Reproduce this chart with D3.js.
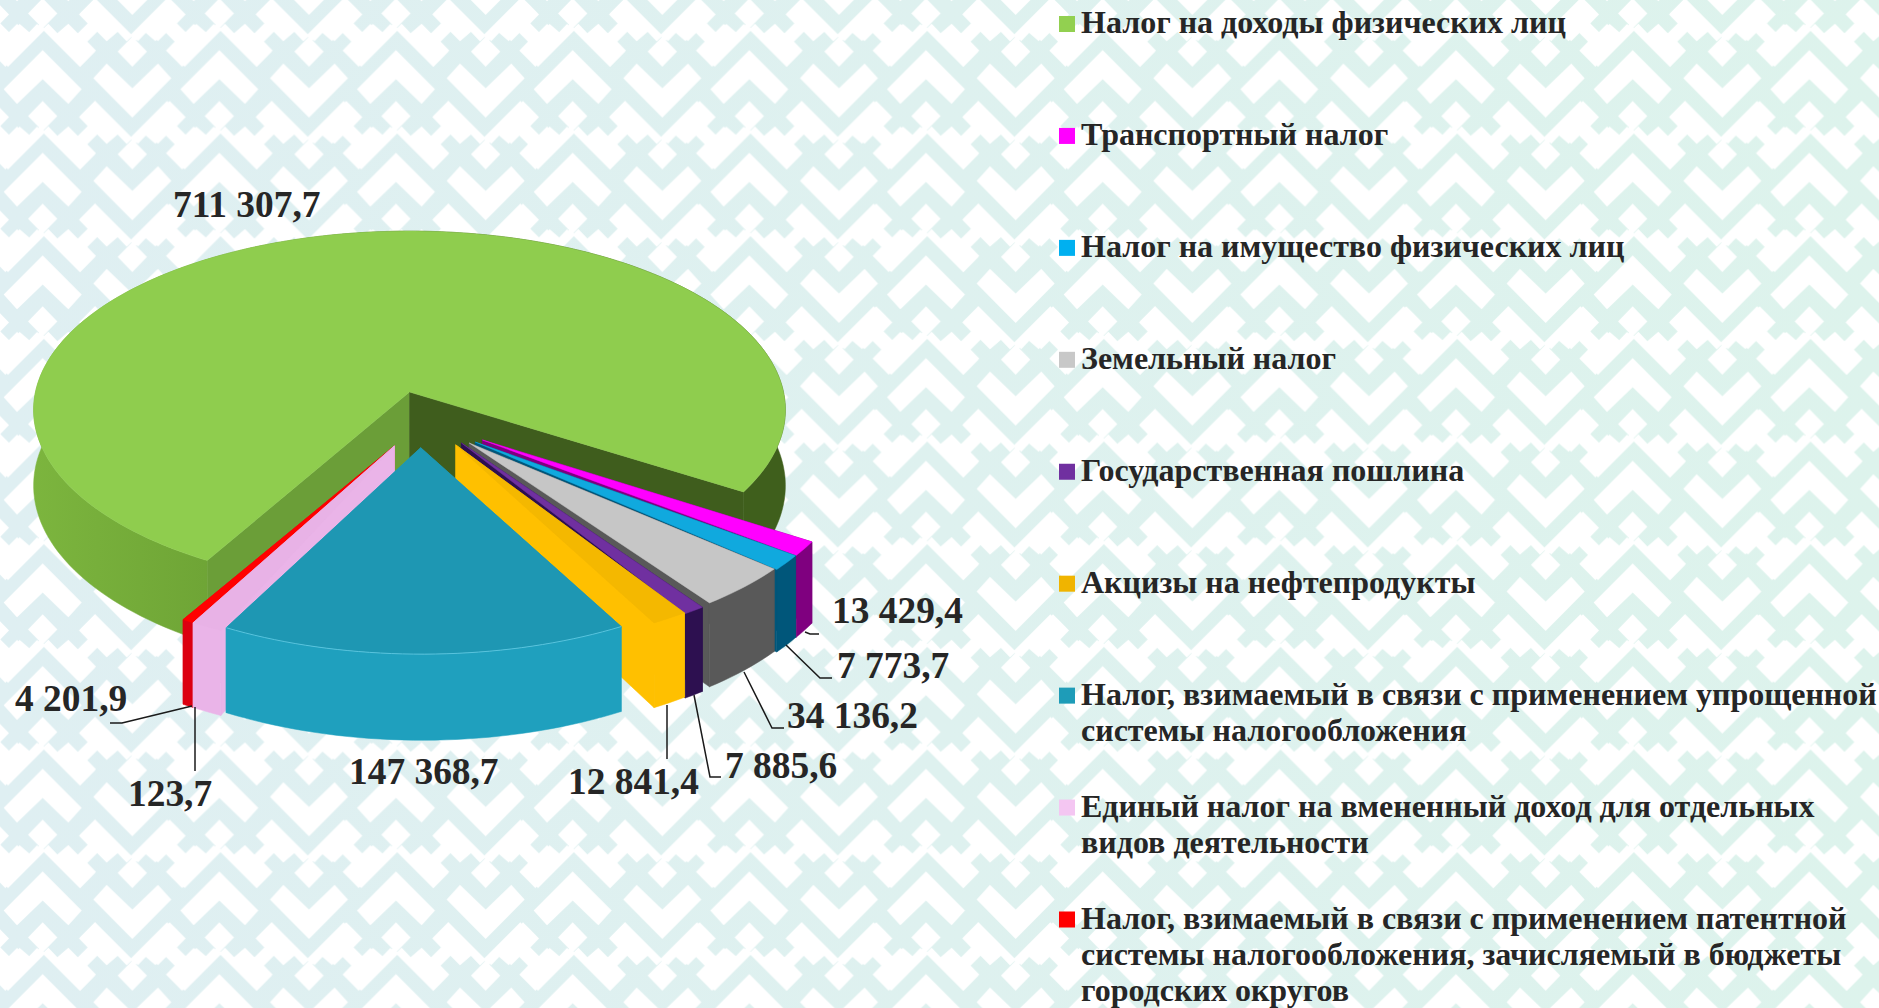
<!DOCTYPE html>
<html lang="ru">
<head>
    <meta charset="UTF-8">
    <script src="https://d3js.org/d3.v7.min.js"></script>
    <style>
        html, body { margin: 0; padding: 0; background: #fff; overflow: hidden; }
        svg { display: block; }
        text { font-family: "Liberation Serif", serif; font-weight: bold; fill: #262626; }
        .legend text { font-size: 32px; }
        .leader { fill: none; stroke: #1a1a1a; stroke-width: 1.5px; }
    </style>
</head>
<body>
    <div id="chart"></div>

    <script>
        const categories = [
            ["Налог на доходы физических лиц"],
            ["Транспортный налог"],
            ["Налог на имущество физических лиц"],
            ["Земельный налог"],
            ["Государственная пошлина"],
            ["Акцизы на нефтепродукты"],
            ["Налог, взимаемый в связи с применением упрощенной", "системы налогообложения"],
            ["Единый налог на вмененный доход для отдельных", "видов деятельности"],
            ["Налог, взимаемый в связи с применением патентной", "системы налогообложения, зачисляемый в бюджеты", "городских округов"]
        ];
        const values = [711307.7, 13429.4, 7773.7, 34136.2, 7885.6, 12841.4, 147368.7, 4201.9, 123.7];

        const width = 1879, height = 1008;
        const rad = d => d * Math.PI / 180;

        // slice look: top, outer wall, wall at start angle, wall at end angle
        const looks = [
            { top: "#8fcd4e", outer: "url(#greenWall)", w0: "#6b9e38", w1: "#3f5d1d" },
            { top: "#ff00ff", outer: "#7f007f", w0: "#7f007f", w1: "#7f007f" },
            { top: "#10a9de", outer: "#00567a", w0: "#00567a", w1: "#00567a" },
            { top: "#c6c6c6", outer: "#595959", w0: "#595959", w1: "#595959" },
            { top: "#7030a0", outer: "#2d1050", w0: "#2d1050", w1: "#2d1050" },
            { top: "#f4b800", outer: "#ffc000", w0: "#f2b700", w1: "#ffc000" },
            { top: "#1e97b3", outer: "#1fa0be", w0: "#1fa0be", w1: "#1fa0be" },
            { top: "#e8b2e6", outer: "#eab4e8", w0: "#eab4e8", w1: "#eab4e8" },
            { top: "#ff0000", outer: "#dc0010", w0: "#dc0010", w1: "#dc0010" }
        ];
        const legendColors = ["#92d050", "#ff00ff", "#00b0f0", "#c8c8c8", "#7030a0", "#f0b400", "#1e9cb8", "#f4c6f2", "#ff0000"];

        // explosion of each slice on the pie plane, radius and angle tweaks (deg)
        const explode = [
            { ou: 0, ov: 0, r: 1, a0: 0, a1: 0 },
            { ou: .19, ov: .264, r: .954, a0: .5, a1: .1 },
            { ou: .171, ov: .275, r: .962, a0: -1, a1: 1 },
            { ou: .155, ov: .28, r: .965, a0: .3, a1: .9 },
            { ou: .135, ov: .28, r: .982, a0: 1.5, a1: 1.5 },
            { ou: .12, ov: .29, r: .978, a0: .4, a1: .6 },
            { ou: .029, ov: .305, r: .985, a0: 0, a1: 0 },
            { ou: -.039, ov: .295, r: .98, a0: -3.5, a1: -.7 },
            { ou: -.039, ov: .295, r: .98, a0: -.7, a1: .9 }
        ];
        const drawOrder = [0, 1, 2, 3, 4, 5, 8, 7, 6];

        // label anchors and leader lines
        const labelPos = [
            { x: 173, y: 217 }, { x: 832, y: 623 }, { x: 837, y: 678 },
            { x: 787, y: 728 }, { x: 725, y: 778 }, { x: 568, y: 794 },
            { x: 349, y: 784 }, { x: 15, y: 711 }, { x: 128, y: 806 }
        ];
        const leaders = [
            [[805, 632], [810, 634], [819, 634]],
            [[786, 645], [820, 678], [832, 678]],
            [[744, 672], [772, 728], [784, 728]],
            [[694, 695], [710, 777], [721, 777]],
            [[667, 705], [667, 759]],
            [[192, 706], [122, 723], [110, 723]],
            [[195, 707], [195, 771]]
        ];

        const svg = d3.select("#chart").append("svg")
            .attr("width", width)
            .attr("height", height);

        // background ornament, tile 530x308 measured at 3x, scaled down
        const defs = svg.append("defs");
        const bgGrad = defs.append("linearGradient").attr("id", "bgGrad");
        bgGrad.append("stop").attr("offset", "0%").attr("stop-color", "#dfeff2");
        bgGrad.append("stop").attr("offset", "100%").attr("stop-color", "#ddf3ec");

        const greenWall = defs.append("linearGradient").attr("id", "greenWall")
            .attr("gradientUnits", "userSpaceOnUse")
            .attr("x1", 32).attr("x2", 785).attr("y1", 0).attr("y2", 0);
        greenWall.append("stop").attr("offset", "0%").attr("stop-color", "#7cb53e");
        greenWall.append("stop").attr("offset", "23%").attr("stop-color", "#6fa536");
        greenWall.append("stop").attr("offset", "60%").attr("stop-color", "#3f5f1c");
        greenWall.append("stop").attr("offset", "100%").attr("stop-color", "#3f5f1c");

        const tileW = 530, tileH = 308;
        const chevron = [[128, 150], [245, 268], [205, 312], [128, 238], [51, 312], [11, 268]];
        const diamond = [[128, -5], [172, 40], [128, 85], [84, 40]];
        const knot = [[128, 88], [145, 72], [172, 100], [205, 72], [240, 107], [273, 73], [240, 40], [285, -5],
            [397, 107], [380, 123], [353, 95], [320, 123], [292, 95], [262, 125], [288, 152], [240, 200]];
        const knotM = knot.map(p => [256 - p[0], p[1]]);
        let shapes = [chevron, diamond, knot, knotM];
        shapes = shapes.concat(shapes.map(s => s.map(p => [525 - p[0], 195 - p[1]])));

        const pattern = defs.append("pattern").attr("id", "ornament")
            .attr("patternUnits", "userSpaceOnUse")
            .attr("width", tileW / 3).attr("height", tileH / 3);
        const tile = pattern.append("g").attr("transform", "scale(0.33333)");
        [-1, 0, 1].forEach(i => [-1, 0, 1].forEach(j => {
            tile.selectAll(null).data(shapes).enter().append("polygon")
                .attr("points", s => s.map(p => [p[0] + i * tileW, p[1] + j * tileH].join(",")).join(" "))
                .attr("fill", "#fff");
        }));

        svg.append("rect").attr("width", width).attr("height", height).attr("fill", "url(#bgGrad)");
        svg.append("rect").attr("width", width).attr("height", height).attr("fill", "url(#ornament)");

        // perspective projection of the pie plane
        const cx = 409.5, cy = 392, depth = 75, persp = 0.1;
        const planeX = d3.scaleLinear().domain([-1, 1]).range([-374, 374]);
        const planeY = d3.scaleLinear().domain([-1, 1]).range([-177, 177]);
        const project = (u, v, z) => {
            const w = 1 / (1 - persp * v);
            return [cx + planeX(u) * w, cy + (planeY(v) + depth * z) * w];
        };

        const pie = d3.pie().sort(null)
            .startAngle(rad(209.6))
            .endAngle(rad(209.6 + 360));
        const arcs = pie(values);

        const line = d3.line();
        const pieG = svg.append("g");

        drawOrder.forEach(i => {
            const d = arcs[i], e = explode[i], look = looks[i];
            const a0 = d.startAngle + rad(e.a0), a1 = d.endAngle + rad(e.a1);
            const rim = (a, z) => project(e.ou + e.r * Math.sin(a), e.ov - e.r * Math.cos(a), z);
            const apexTop = project(e.ou, e.ov, 0), apexBot = project(e.ou, e.ov, 1);
            const steps = d3.range(0, 1.0001, 1 / Math.max(2, Math.ceil((a1 - a0) / rad(1.5))))
                .map(t => a0 + (a1 - a0) * t);
            const topArc = steps.map(a => rim(a, 0));
            const botArc = steps.map(a => rim(a, 1));

            const g = pieG.append("g");
            const face = (pts, fill) => g.append("path")
                .attr("d", line(pts) + "Z")
                .attr("fill", fill)
                .attr("stroke", fill)
                .attr("stroke-width", 0.5);

            face([apexTop, rim(a0, 0), rim(a0, 1), apexBot], look.w0);
            face([apexTop, rim(a1, 0), rim(a1, 1), apexBot], look.w1);
            face(topArc.concat(botArc.slice().reverse()), look.outer);
            face([apexTop].concat(topArc), look.top);

            // thin light edge of the teal slice
            if (i === 6) {
                g.append("path").attr("d", line(topArc)).attr("fill", "none")
                    .attr("stroke", "#58c4de").attr("stroke-width", 1);
            }
        });

        // data labels
        const ru = d3.formatLocale({ decimal: ",", thousands: " ", grouping: [3], currency: ["", ""] });
        const fmt = ru.format(",.1f");

        svg.append("g").selectAll("path").data(leaders).enter().append("path")
            .attr("class", "leader")
            .attr("d", d => line(d));

        svg.append("g").selectAll("text").data(values).enter().append("text")
            .attr("x", (d, i) => labelPos[i].x)
            .attr("y", (d, i) => labelPos[i].y)
            .style("font-size", "37.4px")
            .text(d => fmt(d));

        // legend
        const legendY = d3.scaleLinear().domain([0, 8]).range([24, 919.5]);
        const legend = svg.append("g").attr("class", "legend")
            .selectAll("g").data(categories).enter().append("g")
            .attr("transform", (d, i) => `translate(1059,${legendY(i)})`);

        legend.append("rect")
            .attr("y", -8).attr("width", 16).attr("height", 16)
            .attr("fill", (d, i) => legendColors[i]);

        legend.append("text")
            .selectAll("tspan").data(d => d).enter().append("tspan")
            .attr("x", 22)
            .attr("y", (d, i) => 9 + i * 36.3)
            .text(d => d);
    </script>
</body>
</html>
